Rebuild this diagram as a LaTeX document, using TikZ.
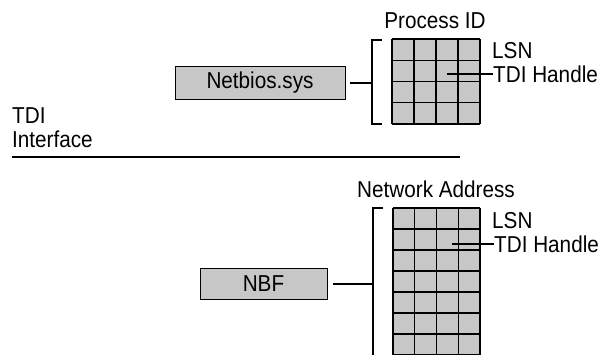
\documentclass[tikz,border=0pt]{standalone}
\usepackage{fontspec}
\setmainfont{Liberation Sans}[FakeStretch=0.9]
\begin{document}
\begin{tikzpicture}[x=1pt,y=-1pt]
	% Styles (MODIFIABLES)
	\tikzstyle{texte}=[font=\fontsize{23}{26}\selectfont,inner sep=0pt]
	\tikzstyle{boite}=[texte,draw,fill=black!22,line width=0.9pt]
	\tikzstyle{lien}=[-,line width=1.2pt]
	\tikzstyle{crochet}=[-,line width=1.5pt]
	\tikzstyle{table}=[fill=black!22]
	\tikzstyle{cases}=[line width=1.1pt]
	% Dimensions (MODIFIABLES)
	\def\LargeurCase{22}
	\def\HauteurCaseA{21.25}
	\def\HauteurCaseB{21}
	\clip (0,0) rectangle (604,354);
	% Table du haut : Process ID (4 x 4)
	\fill[table] (392,39) rectangle (480,124);
	\foreach \i in {0,...,4} \draw[cases] ({392+\i*\LargeurCase},39) -- ({392+\i*\LargeurCase},124);
	\foreach \j in {0,...,4} \draw[cases] (392,{39+\j*\HauteurCaseA}) -- (480,{39+\j*\HauteurCaseA});
	% Table du bas : Network Address (4 x 7)
	\fill[table] (393,208) rectangle (480,355);
	\foreach \i in {0,...,4} \draw[cases] ({393+\i*21.75},208) -- ({393+\i*21.75},355);
	\foreach \j in {0,...,7} \draw[cases] (393,{208+\j*\HauteurCaseB}) -- (480,{208+\j*\HauteurCaseB});
	% Crochets
	\draw[crochet] (382,40) -- (372,40) -- (372,124) -- (382,124);
	\draw[crochet] (383,208) -- (373,208) -- (373,356);
	\coordinate (crochetA) at (372,83);
	\coordinate (crochetB) at (373,284);
	% Noeuds (MODIFIABLES)
	\node[boite,minimum width=170pt,minimum height=33pt] (netbios) at (260,83) {Netbios.sys};
	\node[boite,minimum width=127pt,minimum height=31pt] (nbf) at (263.5,284) {NBF};
	\node[texte,anchor=base] (processid) at (435,28) {Process ID};
	\node[texte,anchor=base west] (lsnA) at (492,58) {LSN};
	\node[texte,anchor=west] (handleA) at (493,74) {TDI Handle};
	\node[texte,anchor=base west] (netaddr) at (357,197) {Network Address};
	\node[texte,anchor=base west] (lsnB) at (492,228) {LSN};
	\node[texte,anchor=west] (handleB) at (494,244) {TDI Handle};
	\node[texte,anchor=base west] (tdi) at (12,123) {TDI};
	\node[texte,anchor=base west] (interface) at (12,147) {Interface};
	\coordinate (celluleA) at (447,74);
	\coordinate (celluleB) at (452,244);
	\coordinate (limiteG) at (12,157);
	\coordinate (limiteD) at (460,157);
	% Arcs (MODIFIABLES : Styles)
	\draw[lien,shorten <=5pt] (netbios) -- (crochetA);
	\draw[lien,shorten <=6pt] (nbf) -- (crochetB);
	\draw[lien] (celluleA) -- (handleA.west);
	\draw[lien] (celluleB) -- (handleB.west);
	\draw[line width=1.3pt] (limiteG) -- (limiteD);
\end{tikzpicture}
\end{document}
